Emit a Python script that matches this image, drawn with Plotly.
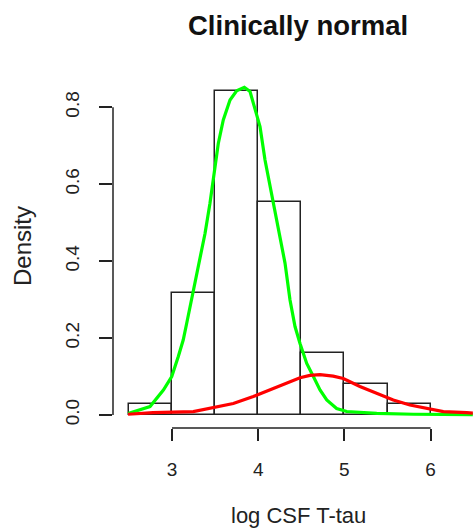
import plotly.graph_objects as go

# Histogram of log CSF T-tau (density scale, bin width 0.5)
bin_centers = [2.75, 3.25, 3.75, 4.25, 4.75, 5.25, 5.75]
bin_density = [0.029, 0.316, 0.843, 0.555, 0.160, 0.081, 0.028]
bin_width = 0.5

# Fitted mixture component curves
green_x = [2.49, 2.745, 2.90, 2.997, 3.073, 3.13, 3.17, 3.209, 3.247, 3.325,
           3.383, 3.44, 3.48, 3.537, 3.595, 3.673, 3.75, 3.839, 3.905, 3.963, 4.021,
           4.079, 4.137, 4.195, 4.253, 4.311, 4.369, 4.427, 4.485, 4.563, 4.64, 4.717,
           4.795, 4.91, 5.027, 5.375, 5.8, 6.2, 6.49]
green_y = [0.004, 0.022, 0.065, 0.100, 0.152, 0.195, 0.238, 0.282, 0.325, 0.407,
           0.472, 0.550, 0.620, 0.706, 0.767, 0.819, 0.843, 0.852, 0.841, 0.793, 0.750,
           0.663, 0.594, 0.533, 0.466, 0.395, 0.299, 0.230, 0.186, 0.134, 0.100, 0.065,
           0.039, 0.017, 0.009, 0.004, 0.002, 0.001, 0.001]

red_x = [2.49, 2.78, 3.247, 3.48, 3.711, 3.943, 4.137, 4.33, 4.485, 4.60, 4.717,
         4.87, 4.987, 5.18, 5.375, 5.567, 5.76, 5.955, 6.148, 6.42, 6.49]
red_y = [0.002, 0.006, 0.009, 0.019, 0.030, 0.048, 0.065, 0.082, 0.097, 0.103, 0.105,
         0.101, 0.095, 0.074, 0.056, 0.039, 0.026, 0.017, 0.009, 0.006, 0.005]

x_ticks = [3, 4, 5, 6]
y_ticks = [0.0, 0.2, 0.4, 0.6, 0.8]

FONT = "Liberation Sans, Arial, sans-serif"

fig = go.Figure()
fig.add_trace(go.Bar(
    x=bin_centers, y=bin_density, width=bin_width,
    marker=dict(color="rgba(255,255,255,0)", line=dict(color="#222222", width=1.5)),
    showlegend=False, hoverinfo="skip",
))
fig.add_trace(go.Scatter(
    x=green_x, y=green_y, mode="lines", line=dict(color="#00FF00", width=3.2),
    showlegend=False,
))
fig.add_trace(go.Scatter(
    x=red_x, y=red_y, mode="lines", line=dict(color="#FF0000", width=3.2),
    showlegend=False,
))

# Detached R-style axis lines
fig.add_shape(type="line", xref="x", yref="paper", x0=3, x1=6, y0=0, y1=0,
              line=dict(color="#222222", width=1.5))
fig.add_shape(type="line", xref="paper", yref="y", x0=0, x1=0, y0=0, y1=0.8,
              line=dict(color="#222222", width=1.5))

fig.update_layout(
    width=473, height=532,
    margin=dict(l=113, r=0, t=60, b=104),
    paper_bgcolor="white", plot_bgcolor="white",
    font=dict(family=FONT, color="#222222"),
    bargap=0,
    xaxis=dict(
        range=[2.3155, 6.4919], tickvals=x_ticks, ticktext=[str(v) for v in x_ticks],
        showgrid=False, zeroline=False, showline=False,
        ticks="outside", ticklen=12, tickwidth=1.5, tickcolor="#222222",
        tickfont=dict(size=19, family=FONT, color="#222222"),
        ticklabelstandoff=12,
    ),
    yaxis=dict(
        range=[-0.0338, 0.923], tickvals=y_ticks, ticktext=[f"{v:.1f}" for v in y_ticks],
        showgrid=False, zeroline=False, showline=False,
        ticks="outside", ticklen=13, tickwidth=1.5, tickcolor="#222222",
        tickangle=-90,
        tickfont=dict(size=19, family=FONT, color="#222222"),
        ticklabelstandoff=12,
    ),
    annotations=[
        dict(text="<b>Clinically normal</b>", xref="paper", yref="paper",
             x=(297.5 - 113) / 360, y=(428 - 25) / 368, xanchor="center", yanchor="middle",
             showarrow=False, font=dict(size=27.5, family=FONT, color="#111111")),
        dict(text="log CSF T-tau", xref="paper", yref="paper",
             x=(298 - 113) / 360, y=(428 - 515) / 368, xanchor="center", yanchor="middle",
             showarrow=False, font=dict(size=22, family=FONT, color="#222222")),
        dict(text="Density", xref="paper", yref="paper",
             x=(22 - 113) / 360, y=(428 - 246) / 368, xanchor="center", yanchor="middle",
             textangle=-90, showarrow=False, font=dict(size=24, family=FONT, color="#222222")),
    ],
)

fig.write_html("out.html")
